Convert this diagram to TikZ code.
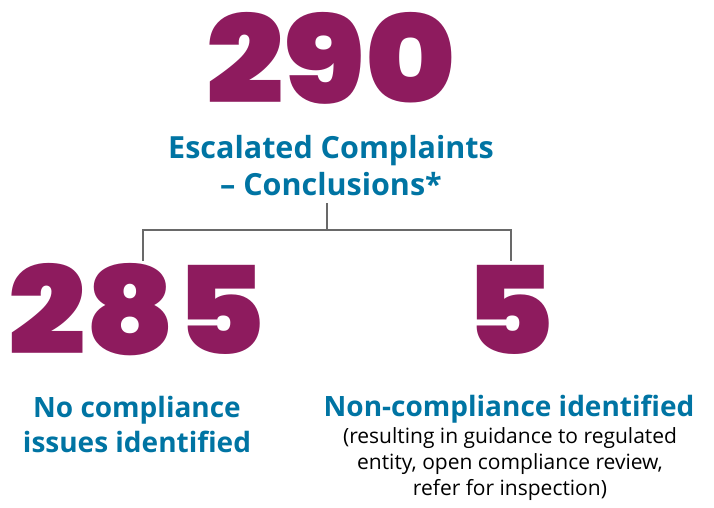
\documentclass[tikz,border=0pt]{standalone}
\usepackage{fontspec}
\usepackage{xcolor}
\setmainfont{Open Sans}
\newfontfamily\numfont{Poppins Black}[Numbers=Proportional, FakeStretch=1.12]
\definecolor{plumred}{RGB}{142,27,94}
\definecolor{oceanblue}{RGB}{0,116,163}
\definecolor{stemgray}{RGB}{105,105,105}
\tikzset{
  bignum/.style={text=plumred, inner sep=0pt, anchor=base, text depth=0pt, font=\numfont\fontsize{122}{122}\selectfont},
  bluehead/.style={text=oceanblue, inner sep=0pt, anchor=base, align=center, font=\bfseries\fontsize{28}{35}\selectfont},
  note/.style={text=black, inner sep=0pt, anchor=base, align=center, font=\fontsize{21}{26}\selectfont},
  branch/.style={draw=stemgray, line width=2pt}
}

\begin{document}
\begin{tikzpicture}[x=1pt, y=-1pt]
    \useasboundingbox (0,0) rectangle (714,508);

    % Totaal bovenaan
    \node[bignum] (total) at (331,103) {290};
    \node[bluehead, font=\bfseries\fontsize{30.5}{37}\selectfont] (totaltxt) at (331,195) {Escalated Complaints\\-- Conclusions*};

    % Vertakking
    \coordinate (stem) at (327,203);
    \coordinate (split) at (327,230);
    \coordinate (lefttip) at (143,261);
    \coordinate (righttip) at (511,261);
    \draw[branch] (stem) -- (split);
    \draw[branch] (lefttip) |- (split) -| (righttip);

    % Links: geen problemen
    \node[bignum] (okcount) at (137,354) {285};
    \node[bluehead] (oktxt) at (137,452) {No compliance\\issues identified};

    % Rechts: niet-naleving
    \node[bignum] (badcount) at (510,354) {5};
    \node[bluehead] (badtxt) at (509,416) {Non-compliance identified};
    \node[note] (badnote) at (510,495) {(resulting in guidance to regulated\\entity, open compliance review,\\refer for inspection)};
\end{tikzpicture}
\end{document}
